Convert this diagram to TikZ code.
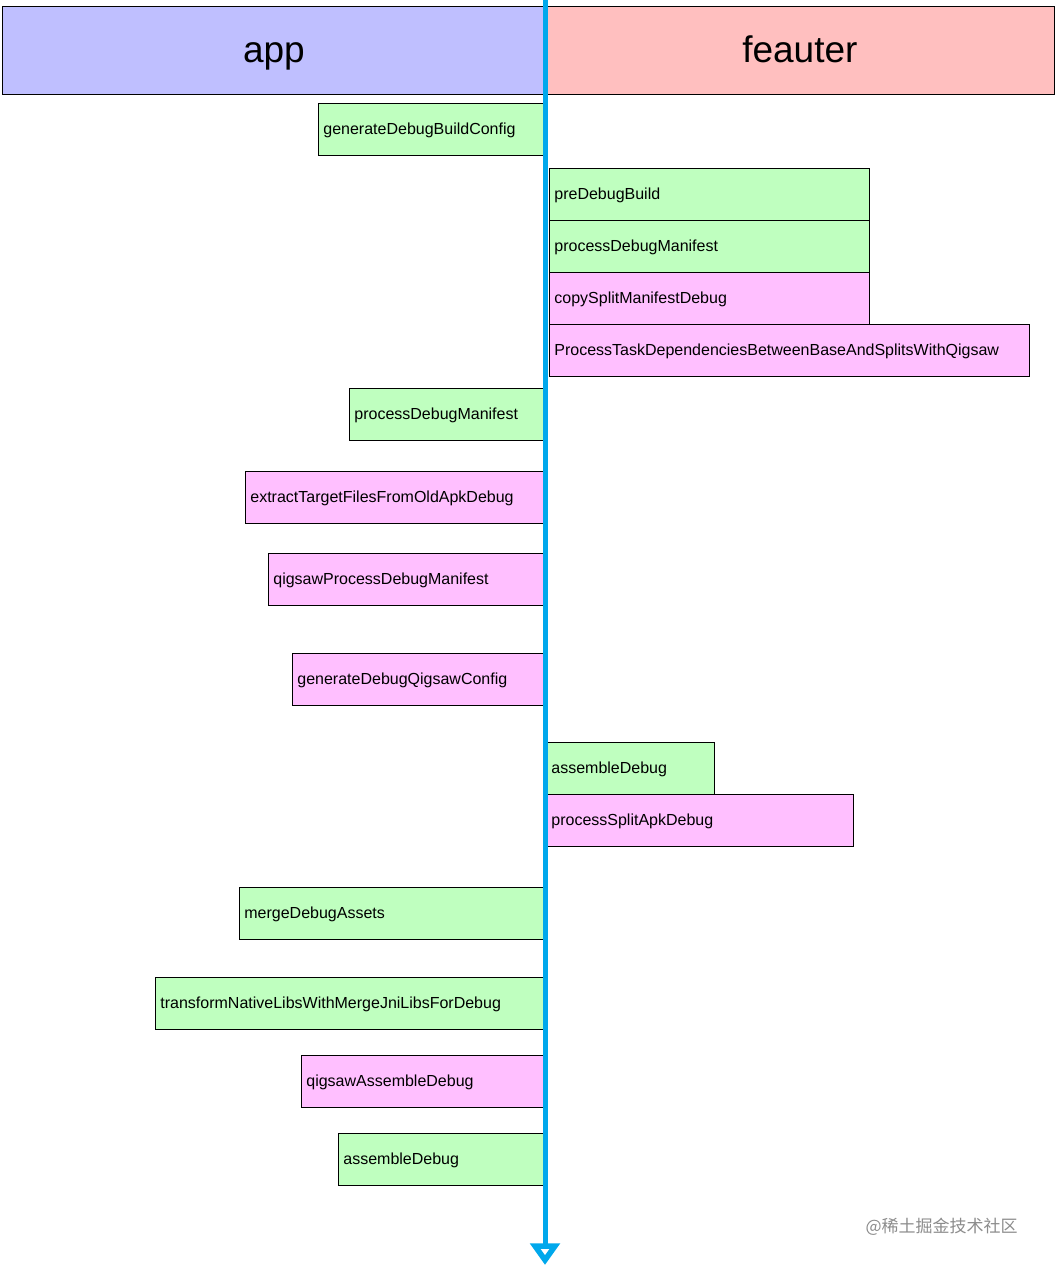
\documentclass[tikz,border=0pt]{standalone}
\usepackage{fontspec}
\setmainfont{Liberation Sans}
\newfontfamily\cjk{Noto Sans CJK SC}
\definecolor{hdrblue}{RGB}{191,191,255}
\definecolor{hdrred}{RGB}{255,191,191}
\definecolor{gfill}{RGB}{191,255,191}
\definecolor{pfill}{RGB}{255,191,255}
\definecolor{flow}{RGB}{0,168,236}
\tikzset{
  hdr/.style={draw=black, line width=0.8pt, anchor=north west, minimum height=88pt, inner sep=0pt, text height=30pt, text depth=5pt, font=\fontsize{37}{40}\selectfont},
  task/.style={draw=black, line width=0.8pt, anchor=north west, minimum height=52pt, inner xsep=5pt, inner ysep=0pt, text height=13pt, text depth=3pt, align=left, font=\fontsize{16}{19}\selectfont},
  gtask/.style={task, fill=gfill},
  ptask/.style={task, fill=pfill},
}
\begin{document}
\begin{tikzpicture}[x=1pt,y=-1pt]
\useasboundingbox (0,0) rectangle (1055,1269);
\fill[white] (0,0) rectangle (1055,1269);
% headers
\node[hdr, fill=hdrblue, minimum width=543pt] (app) at (2,6) {app};
\node[hdr, fill=hdrred, minimum width=509pt] (feat) at (545,6) {feauter};
% tasks
\node[gtask, text width=215pt] (t1) at (318,103) {generateDebugBuildConfig};
\node[gtask, text width=310pt] (t2) at (549,168) {preDebugBuild};
\node[gtask, text width=310pt] (t3) at (549,220) {processDebugManifest};
\node[ptask, text width=310pt] (t4) at (549,272) {copySplitManifestDebug};
\node[ptask, text width=470pt] (t5) at (549,324) {ProcessTaskDependenciesBetweenBaseAndSplitsWithQigsaw};
\node[gtask, text width=184pt] (t6) at (349,388) {processDebugManifest};
\node[ptask, text width=288pt] (t7) at (245,471) {extractTargetFilesFromOldApkDebug};
\node[ptask, text width=265pt] (t8) at (268,553) {qigsawProcessDebugManifest};
\node[ptask, text width=241pt] (t9) at (292,653) {generateDebugQigsawConfig};
\node[gtask, text width=158pt] (t10) at (546,742) {assembleDebug};
\node[ptask, text width=297pt] (t11) at (546,794) {processSplitApkDebug};
\node[gtask, text width=294pt] (t12) at (239,887) {mergeDebugAssets};
\node[gtask, text width=378pt] (t13) at (155,977) {transformNativeLibsWithMergeJniLibsForDebug};
\node[ptask, text width=232pt] (t14) at (301,1055) {qigsawAssembleDebug};
\node[gtask, text width=195pt] (t15) at (338,1133) {assembleDebug};
% timeline
\coordinate (top) at (545,0);
\coordinate (bot) at (545,1245);
\draw[flow, line width=5pt] (top) -- (bot);
\draw[flow, line width=5.5pt, fill=white, line join=miter] (535,1246) -- (555,1246) -- (545,1260) -- cycle;
% watermark
\node[anchor=west, text=black!45, font=\cjk\fontsize{17}{20}\selectfont] (wm) at (862,1227) {@稀土掘金技术社区};
\end{tikzpicture}
\end{document}
